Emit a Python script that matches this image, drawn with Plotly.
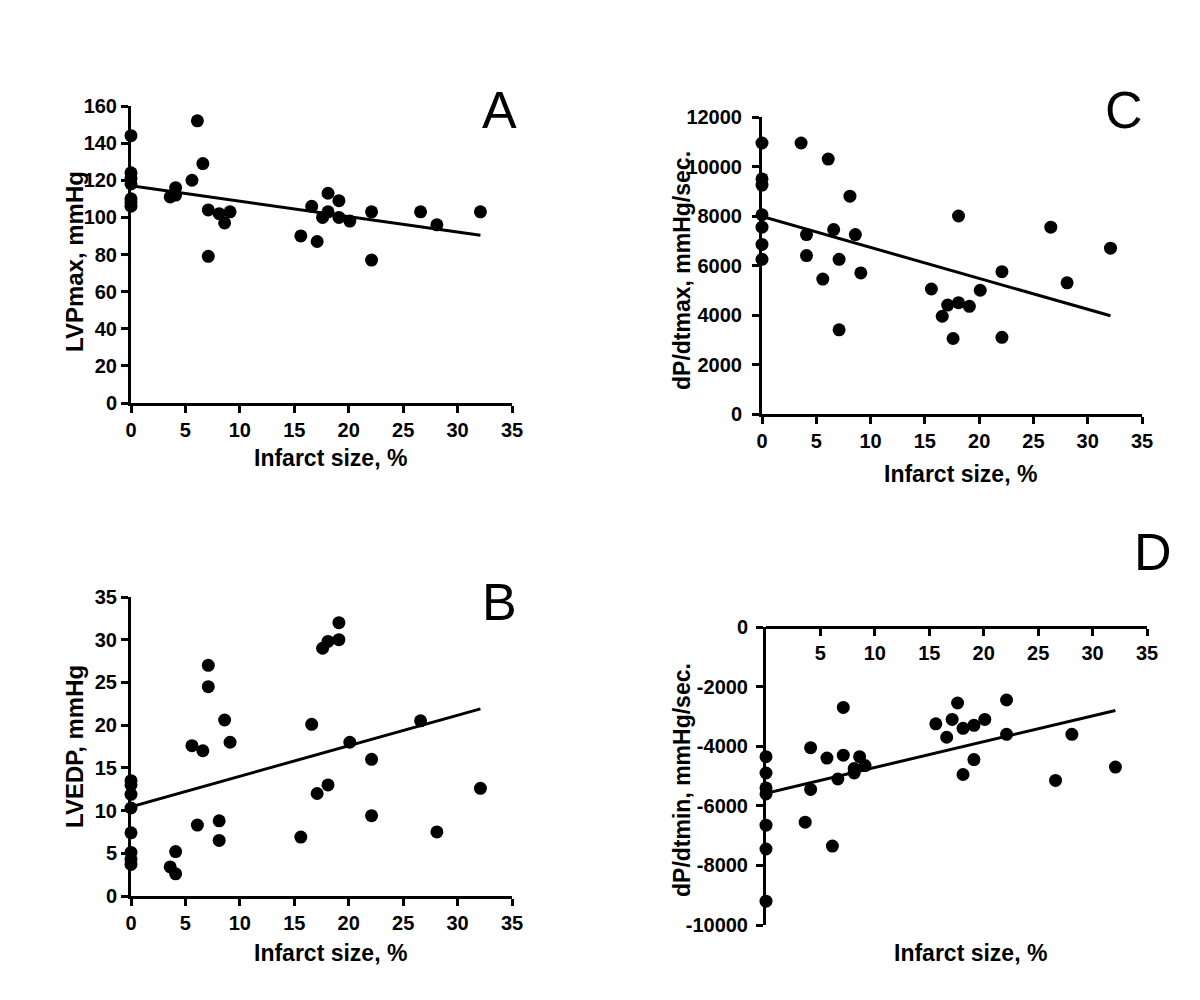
import plotly.graph_objects as go

# ---------------- data ----------------
# Panel A: LVPmax vs infarct size
a_x = [0, 0, 0, 0, 0, 0, 0, 3.6, 4.1, 4.1, 5.6, 6.1, 6.6, 7.1, 7.1, 8.1, 8.6, 9.1,
       15.6, 16.6, 17.1, 17.6, 18.1, 18.1, 19.1, 19.1, 20.1, 22.1, 22.1, 26.6, 28.1, 32.1]
a_y = [144, 124, 121, 118, 110, 108, 106, 111, 116, 112, 120, 152, 129, 104, 79, 102, 97, 103,
       90, 106, 87, 100, 113, 103, 109, 100, 98, 103, 77, 103, 96, 103]
a_fit = [117.0, -0.83]   # intercept, slope

# Panel B: LVEDP vs infarct size
b_x = [0, 0, 0, 0, 0, 0, 0, 0, 3.6, 4.1, 4.1, 5.6, 6.1, 6.6, 7.1, 7.1, 8.1, 8.1, 8.6, 9.1,
       15.6, 16.6, 17.1, 17.6, 18.1, 18.1, 19.1, 19.1, 20.1, 22.1, 22.1, 26.6, 28.1, 32.1]
b_y = [13.5, 13.0, 11.9, 10.3, 7.4, 5.1, 4.3, 3.7, 3.4, 5.2, 2.6, 17.6, 8.3, 17.0, 27.0, 24.5, 8.8, 6.5, 20.6, 18.0,
       6.9, 20.1, 12.0, 29.0, 29.8, 13.0, 32.0, 30.0, 18.0, 16.0, 9.4, 20.5, 7.5, 12.6]
b_fit = [10.45, 0.357]

# Panel C: dP/dtmax vs infarct size
c_x = [0, 0, 0, 0, 0, 0, 0, 3.6, 4.1, 4.1, 5.6, 6.1, 6.6, 7.1, 7.1, 8.1, 8.6, 9.1,
       15.6, 16.6, 17.1, 17.6, 18.1, 18.1, 19.1, 20.1, 22.1, 22.1, 26.6, 28.1, 32.1]
c_y = [10950, 9500, 9250, 8050, 7550, 6850, 6250, 10950, 7250, 6400, 5450, 10300, 7450, 6250, 3400, 8800, 7250, 5700,
       5050, 3950, 4400, 3050, 8000, 4500, 4350, 5000, 5750, 3100, 7550, 5300, 6700]
c_fit = [7980, -125]

# Panel D: dP/dtmin vs infarct size
d_x = [0, 0, 0, 0, 0, 0, 0, 3.6, 4.1, 4.1, 5.6, 6.1, 6.6, 7.1, 7.1, 8.1, 8.1, 8.6, 9.1,
       15.6, 16.6, 17.1, 17.6, 18.1, 18.1, 19.1, 19.1, 20.1, 22.1, 22.1, 26.6, 28.1, 32.1]
d_y = [-4350, -4900, -5400, -5600, -6650, -7450, -9200, -6550, -4050, -5450, -4400, -7350, -5100, -2700, -4300,
       -4750, -4900, -4350, -4650,
       -3250, -3700, -3100, -2550, -3400, -4950, -3300, -4450, -3100, -2450, -3600, -5150, -3600, -4700]
d_fit = [-5580, 86.6]

x_ticks = [0, 5, 10, 15, 20, 25, 30, 35]
d_x_ticks = [5, 10, 15, 20, 25, 30, 35]
a_y_ticks = [0, 20, 40, 60, 80, 100, 120, 140, 160]
b_y_ticks = [0, 5, 10, 15, 20, 25, 30, 35]
c_y_ticks = [0, 2000, 4000, 6000, 8000, 10000, 12000]
c_y_labels = ["0", "2000", "4000", "6000", "8000", "10000", "12000"]
d_y_ticks = [0, -2000, -4000, -6000, -8000, -10000]
d_y_labels = ["0", "-2000", "-4000", "-6000", "-8000", "-10000"]

x_title = "Infarct size, %"
y_titles = ["LVPmax, mmHg", "LVEDP, mmHg", "dP/dtmax, mmHg/sec.", "dP/dtmin, mmHg/sec."]
letters = ["A", "B", "C", "D"]

# ---------------- figure ----------------
FONT = "Liberation Sans"
W, H = 1200, 1000
OFF = 8  # page body margin in the browser


fig = go.Figure()

panels = [
    ("x", "y", a_x, a_y, a_fit),
    ("x2", "y2", b_x, b_y, b_fit),
    ("x3", "y3", c_x, c_y, c_fit),
    ("x4", "y4", d_x, d_y, d_fit),
]
for xa, ya, xs, ys, fit in panels:
    fig.add_trace(go.Scatter(x=xs, y=ys, mode="markers", xaxis=xa, yaxis=ya,
                             marker=dict(size=13, color="black"), cliponaxis=False,
                             showlegend=False, hoverinfo="x+y"))
    x0, x1 = min(xs), max(xs)
    fig.add_trace(go.Scatter(x=[x0, x1], y=[fit[0] + fit[1] * x0, fit[0] + fit[1] * x1],
                             mode="lines", xaxis=xa, yaxis=ya,
                             line=dict(color="black", width=3), cliponaxis=False,
                             showlegend=False, hoverinfo="skip"))


def px_x(p):
    return (p - OFF) / W


def px_y(p):
    return 1 - (p - OFF) / H


tickfont = dict(family=FONT, size=20, color="black", weight="bold")
common = dict(showline=True, linecolor="black", linewidth=3, ticks="outside",
              ticklen=7, tickwidth=3, tickcolor="black", showgrid=False,
              zeroline=False, tickfont=tickfont, fixedrange=True, automargin=False)

fig.update_layout(
    template="none",
    width=W, height=H, margin=dict(l=0, r=0, t=0, b=0, pad=0, autoexpand=False),
    paper_bgcolor="white", plot_bgcolor="white", showlegend=False,
    xaxis=dict(domain=[px_x(131), px_x(512)], range=[0, 35], anchor="y",
               tickvals=x_ticks, **common),
    yaxis=dict(domain=[px_y(403), px_y(106)], range=[0, 160], anchor="x",
               tickvals=a_y_ticks, **common),
    xaxis2=dict(domain=[px_x(131), px_x(512)], range=[0, 35], anchor="y2",
                tickvals=x_ticks, **common),
    yaxis2=dict(domain=[px_y(896), px_y(597)], range=[0, 35], anchor="x2",
                tickvals=b_y_ticks, **common),
    xaxis3=dict(domain=[px_x(762), px_x(1142)], range=[0, 35], anchor="y3",
                tickvals=x_ticks, **common),
    yaxis3=dict(domain=[px_y(414), px_y(117)], range=[0, 12000], anchor="x3",
                tickvals=c_y_ticks, ticktext=c_y_labels, ticklabelstandoff=6, **common),
    xaxis4=dict(domain=[px_x(766), px_x(1147)], range=[0, 35], anchor="free",
                position=px_y(627), side="bottom", tickvals=d_x_ticks, **common),
    yaxis4=dict(domain=[px_y(925), px_y(627)], range=[-10000, 0], anchor="x4",
                tickvals=d_y_ticks, ticktext=d_y_labels, ticklabelstandoff=4, **common),
)

title_font = dict(family=FONT, size=23, color="black", weight="bold")
letter_font = dict(family=FONT, size=52, color="black")

annots = []
# x-axis titles
for cx, cy in [(330, 458), (330, 953), (960, 474), (970, 953)]:
    annots.append(dict(text=x_title, x=px_x(cx), y=px_y(cy), xref="paper", yref="paper",
                       showarrow=False, font=title_font, xanchor="center", yanchor="middle"))
# y-axis titles
for t, (cx, cy), sz in zip(y_titles, [(74, 262), (74, 747), (682, 271), (682, 780)], [24, 24, 23, 23]):
    f = dict(title_font)
    f["size"] = sz
    annots.append(dict(text=t, x=px_x(cx), y=px_y(cy), xref="paper", yref="paper",
                       showarrow=False, font=f, textangle=-90,
                       xanchor="center", yanchor="middle"))
# panel letters
for t, (cx, cy) in zip(letters, [(500, 110), (500, 602), (1124, 110), (1153, 552)]):
    annots.append(dict(text=t, x=px_x(cx), y=px_y(cy), xref="paper", yref="paper",
                       showarrow=False, font=letter_font, xanchor="center", yanchor="middle"))

fig.update_layout(annotations=annots)

fig.write_html("out.html")
